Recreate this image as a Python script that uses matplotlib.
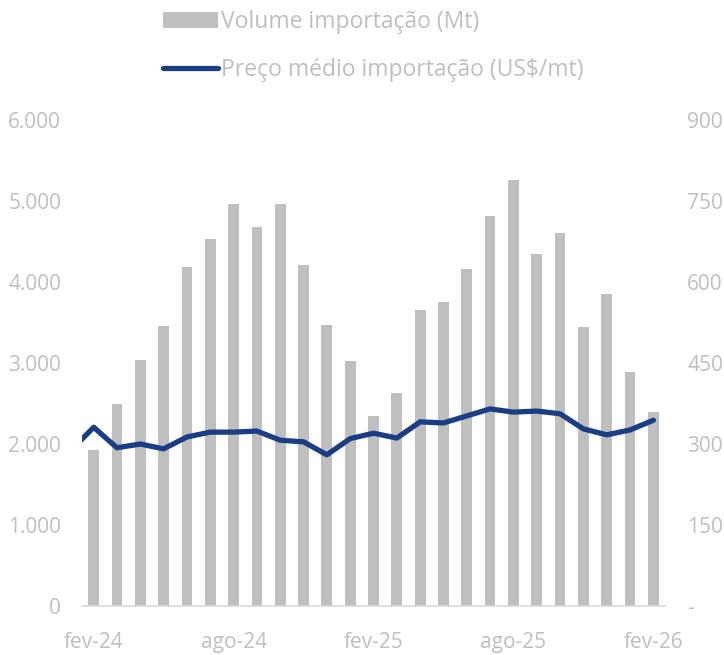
import numpy as np
import matplotlib
matplotlib.use("Agg")
import matplotlib.pyplot as plt
from matplotlib.ticker import FuncFormatter

plt.rcParams['font.family'] = ['Open Sans', 'DejaVu Sans']

# months fev-24 .. fev-26
months = ["fev-24", "mar-24", "abr-24", "mai-24", "jun-24", "jul-24", "ago-24",
          "set-24", "out-24", "nov-24", "dez-24", "jan-25", "fev-25", "mar-25",
          "abr-25", "mai-25", "jun-25", "jul-25", "ago-25", "set-25", "out-25",
          "nov-25", "dez-25", "jan-26", "fev-26"]
volume = [1930, 2500, 3035, 3460, 4180, 4525, 4960, 4685, 4965, 4215, 3465, 3025,
          2345, 2630, 3655, 3750, 4160, 4810, 5260, 4350, 4605, 3450, 3850, 2895, 2400]
# price series starts one month earlier (jan-24), clipped at the axis edge
price_prev = 287
price = [331, 293, 300, 291, 313, 322, 322, 324, 307, 304, 280, 310,
         320, 311, 341, 339, 352, 365, 359, 361, 356, 328, 317, 326, 344]
xtick_labels = ["fev-24", "ago-24", "fev-25", "ago-25", "fev-26"]

gray_txt = "#BFBFBF"
bar_color = "#BFBFBF"
line_color = "#1B3D85"

fig = plt.figure(figsize=(7.24, 6.55), dpi=100)
ax = fig.add_axes([82 / 724, 1 - 606 / 655, 583 / 724, 486 / 655])
ax2 = ax.twinx()

x = np.arange(len(months))
bars = ax.bar(x, volume, width=0.46, color=bar_color, zorder=2,
              label="Volume importação (Mt)")
xl = np.arange(-1, len(months))
line, = ax2.plot(xl, [price_prev] + price, color=line_color, lw=3.8,
                 solid_capstyle='round', solid_joinstyle='round', zorder=3,
                 label="Preço médio importação (US$/mt)")

ax.set_xlim(-0.5, len(months) - 0.5)
ax.set_ylim(0, 6000)
ax2.set_ylim(0, 900)
ax.set_yticks(np.arange(0, 6001, 1000))
ax2.set_yticks(np.arange(0, 901, 150))
ax.yaxis.set_major_formatter(FuncFormatter(lambda v, p: f"{int(v):,}".replace(",", ".")))
ax2.yaxis.set_major_formatter(FuncFormatter(lambda v, p: "-" if v == 0 else f"{int(v)}"))

ax.set_xticks([months.index(m) for m in xtick_labels])
ax.set_xticklabels(xtick_labels)

for a in (ax, ax2):
    for s in a.spines.values():
        s.set_visible(False)
    a.tick_params(length=0, labelsize=15, colors=gray_txt)
ax.spines['bottom'].set_visible(True)
ax.spines['bottom'].set_color("#D9D9D9")
ax.spines['bottom'].set_linewidth(1.2)
ax.tick_params(axis='y', pad=15)
ax2.tick_params(axis='y', pad=16)
ax.tick_params(axis='x', pad=19)
ax.set_zorder(ax2.get_zorder() - 1)
ax2.patch.set_visible(False)

leg = fig.legend(handles=[bars, line], loc='upper left',
                 bbox_to_anchor=(163 / 724, 1 - 10 / 655), frameon=False,
                 fontsize=16.5, handlelength=2.4, handletextpad=0.15,
                 labelspacing=1.05, borderpad=0, borderaxespad=0)
for t in leg.get_texts():
    t.set_color(gray_txt)

fig.savefig("out.png", dpi=100)
